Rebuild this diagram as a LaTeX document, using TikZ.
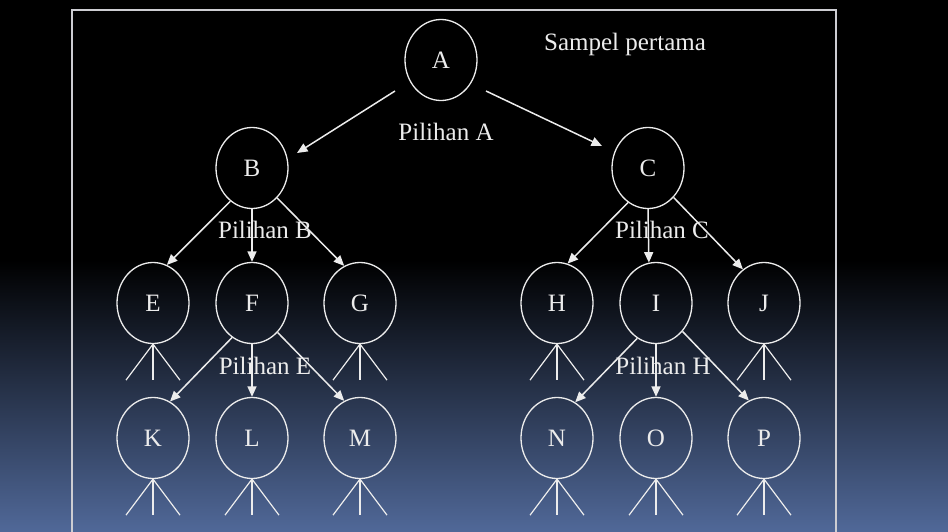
\documentclass[tikz,border=0pt]{standalone}
\usepackage{fontspec}
\setmainfont{Liberation Serif}
\usepackage{tikz}
\usetikzlibrary{arrows.meta,shapes.geometric}
\definecolor{inkwhite}{RGB}{236,236,236}
\definecolor{framegray}{RGB}{205,205,210}
\definecolor{bgblue}{RGB}{80,104,152}

\begin{document}
\begin{tikzpicture}[x=1pt,y=-1pt,
  every node/.style={font=\fontsize{25}{30}\selectfont,text=inkwhite},
  choice/.style={ellipse,draw=inkwhite,line width=1.3pt,
    minimum width=72pt,minimum height=81pt,inner sep=0pt},
  arr/.style={draw=inkwhite,line width=1.5pt,-{Triangle[length=10.5pt,width=9pt]}},
  fork/.style={draw=inkwhite,line width=1.2pt}]
  \useasboundingbox (0,0) rectangle (948,531);
  \fill[black] (0,0) rectangle (948,261);
  \shade[top color=black,bottom color=bgblue] (0,260) rectangle (948,531);
  \draw[framegray,line width=1.8pt] (72,10) rectangle (836,545);

  % tree
  \node[choice] (A) at (441,60) {A};
  \node[choice] (B) at (252,168) {B};
  \node[choice] (C) at (648,168) {C};
  \node[choice] (E) at (153,303) {E};
  \node[choice] (F) at (252,303) {F};
  \node[choice] (G) at (360,303) {G};
  \node[choice] (H) at (557,303) {H};
  \node[choice] (I) at (656,303) {I};
  \node[choice] (J) at (764,303) {J};
  \node[choice] (K) at (153,438) {K};
  \node[choice] (L) at (252,438) {L};
  \node[choice] (M) at (360,438) {M};
  \node[choice] (N) at (557,438) {N};
  \node[choice] (O) at (656,438) {O};
  \node[choice] (P) at (764,438) {P};

  \node (title) at (625,44) {Sampel pertama};
  \node (pa) at (446,132) {Pilihan A};
  \node (pb) at (265,230) {Pilihan B};
  \node (pc) at (662,230) {Pilihan C};
  \node (pe) at (265,366) {Pilihan E};
  \node (ph) at (663,366) {Pilihan H};

  \draw[arr] ([shift={(-46,31)}]A.center) -- ([shift={(45,-15)}]B.center);
  \draw[arr] ([shift={(45,31)}]A.center) -- ([shift={(-46,-22)}]C.center);

  \draw[arr] (B.237) -- (E.70);
  \draw[arr] (B.south) -- (F.north);
  \draw[arr] (B.310) -- (G.113);
  \draw[arr] (C.240) -- (H.75);
  \draw[arr] (C.south) -- (I.100);
  \draw[arr] (C.311) -- (J.122);
  \draw[arr] (F.240) -- (K.65);
  \draw[arr] (F.south) -- (L.north);
  \draw[arr] (F.311) -- (M.113);
  \draw[arr] (I.242) -- (N.63);
  \draw[arr] (I.south) -- (O.north);
  \draw[arr] (I.313) -- (P.112);

  % open branches below the leaves
  \foreach \leaf in {E,G,H,J,K,L,M,N,O,P}
    \foreach \dx in {-27,0,27}
      \draw[fork] (\leaf.south) -- ++(\dx,36);
\end{tikzpicture}
\end{document}
